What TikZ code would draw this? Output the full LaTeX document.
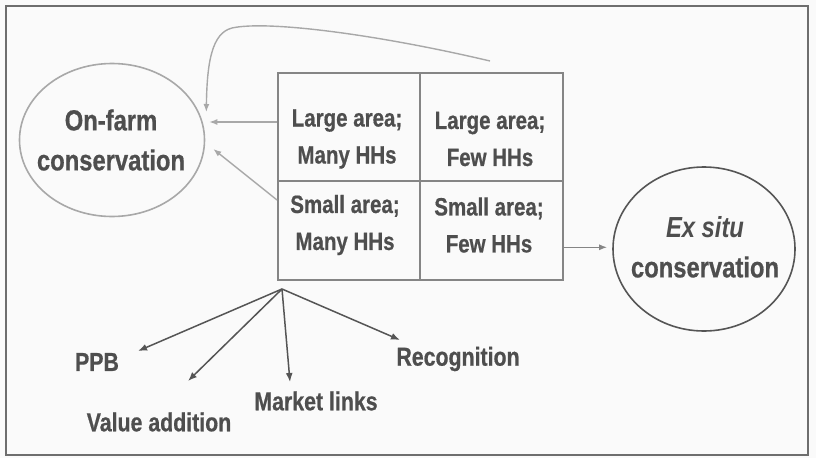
\documentclass[tikz,border=0pt]{standalone}
\usepackage{fontspec}
\setmainfont{Liberation Sans}[FakeStretch=0.82, BoldFeatures={FakeBold=0.6}]
\usetikzlibrary{arrows.meta,calc,shapes.geometric}

\definecolor{paper}{HTML}{FAFAFA}
\definecolor{ink}{HTML}{4E4E4E}
\definecolor{framegray}{HTML}{6E6E6E}
\definecolor{softline}{HTML}{A8A8A8}
\definecolor{midline}{HTML}{858585}
\definecolor{darkline}{HTML}{555555}

\tikzset{
  frameline/.style={draw=framegray, line width=1.6pt},
  cell/.style={draw=midline, line width=1.6pt, anchor=north west, inner sep=0pt},
  celltext/.style={text=ink, font=\fontsize{25}{37}\selectfont\bfseries, align=center, inner sep=0pt},
  oval/.style={ellipse, line width=1.6pt, inner sep=0pt},
  ovaltext/.style={text=ink, align=center, inner sep=0pt,
               font=\fontsize{29}{40}\selectfont\bfseries},
  tag/.style={text=ink, font=\fontsize{26}{30}\selectfont\bfseries, inner sep=0pt},
  softarrow/.style={draw=softline, line width=1.4pt, -{Latex[length=8pt,width=6pt]}},
  midarrow/.style={draw=midline, line width=1.4pt, -{Latex[length=8pt,width=6pt]}},
  darkarrow/.style={draw=darkline, line width=1.5pt, -{Latex[length=9pt,width=7pt]}},
}

\begin{document}
\begin{tikzpicture}[x=1pt, y=-1pt]
  % page and outer frame
  \fill[paper] (0,0) rectangle (816,458);
  \useasboundingbox (0,0) rectangle (816,458);
  \draw[frameline] (6,6) rectangle (808,455);

  % two-by-two table
  \node[cell, minimum width=142, minimum height=108] (tl) at (277,72) {};
  \node[cell, minimum width=143, minimum height=108] (tr) at (419,72) {};
  \node[cell, minimum width=142, minimum height=99]  (bl) at (277,180) {};
  \node[cell, minimum width=143, minimum height=99]  (br) at (419,180) {};

  \node[celltext] (tltext) at (347,139) {Large area;\\Many HHs};
  \node[celltext] (trtext) at (490,139) {Large area;\\Few HHs};
  \node[celltext] (bltext) at (345,225) {Small area;\\Many HHs};
  \node[celltext] (brtext) at (489,225) {Small area;\\Few HHs};

  % the two conservation strategies
  \node[oval, draw=softline, minimum width=185, minimum height=153] (onfarm) at (112,140) {};
  \node[ovaltext] (onfarmtext) at (111,140) {On-farm\\conservation};
  \node[oval, draw=darkline, minimum width=182, minimum height=164] (exsitu) at (704,249) {};
  \node[ovaltext] (exsitutext) at (705,247) {\textit{Ex situ}\\conservation};

  % arrows into on-farm conservation
  \coordinate (rowtop) at ($(tl.north west)+(0,50)$);
  \draw[softarrow, shorten >=4pt] (rowtop) -- (rowtop -| onfarm.east);
  \coordinate (rowbottom) at ($(bl.north west)+(0,20)$);
  \draw[softarrow] (rowbottom) -- ($(onfarm.east)+(8,9)$);
  \coordinate (loopstart) at (490,61);
  \draw[softarrow] (loopstart) .. controls (380,35) and (268,20) .. (232,28)
                   .. controls (212,33) and (207,62) .. ($(onfarm.east)+(1,-28)$);

  % arrow into ex situ conservation
  \coordinate (rightout) at ($(br.east)+(0,17)$);
  \draw[midarrow, shorten >=5pt] (rightout) -- (rightout -| exsitu.west);

  % supporting actions
  \node[tag] (ppb) at (97,362) {PPB};
  \node[tag] (valadd) at (159,422) {Value addition};
  \node[tag] (market) at (316,401) {Market links};
  \node[tag] (recog) at (458,359) {Recognition};

  \coordinate (fan) at (282,289);
  \coordinate (ppbtip) at (138,351);
  \coordinate (valtip) at (188,381);
  \coordinate (markettip) at (290,382);
  \coordinate (recogtip) at (400,340);
  \draw[darkarrow] (fan) -- (ppbtip);
  \draw[darkarrow] (fan) -- (valtip);
  \draw[darkarrow] (fan) -- (markettip);
  \draw[darkarrow] (fan) -- (recogtip);
\end{tikzpicture}
\end{document}
